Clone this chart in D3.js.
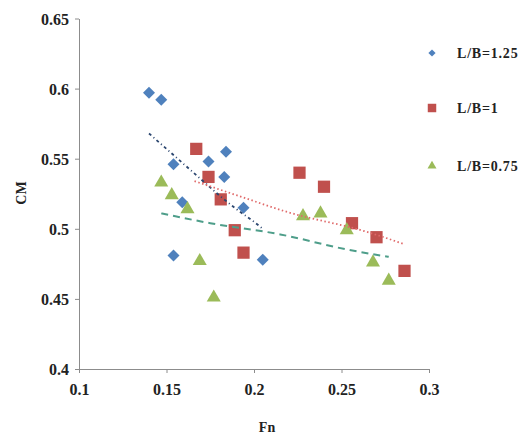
<!DOCTYPE html>
<html><head><meta charset="utf-8">
<script src="https://cdn.jsdelivr.net/npm/d3@7"></script>
<style>body{margin:0;background:#fff}svg{display:block}</style>
</head><body>
<script>
// ---- data ----
const seriesNames = ["L/B=1.25", "L/B=1", "L/B=0.75"];
const fnLB125 = [0.140, 0.147, 0.154, 0.174, 0.184, 0.183, 0.159, 0.194, 0.154, 0.205];
const cmLB125 = [0.597, 0.592, 0.546, 0.548, 0.555, 0.537, 0.519, 0.515, 0.481, 0.478];
const fnLB1 = [0.167, 0.174, 0.181, 0.189, 0.194, 0.226, 0.240, 0.256, 0.270, 0.286];
const cmLB1 = [0.557, 0.537, 0.521, 0.499, 0.483, 0.540, 0.530, 0.504, 0.494, 0.470];
const fnLB075 = [0.147, 0.153, 0.162, 0.169, 0.177, 0.228, 0.238, 0.253, 0.268, 0.277];
const cmLB075 = [0.533, 0.524, 0.514, 0.477, 0.451, 0.509, 0.511, 0.499, 0.476, 0.463];
// trendlines
const trendFn125 = [0.140, 0.150, 0.160, 0.170, 0.180, 0.190, 0.200, 0.205];
const trendCm125 = [0.568, 0.557, 0.546, 0.535, 0.524, 0.514, 0.505, 0.500];
const trendFn1 = [0.166, 0.190, 0.219, 0.264, 0.286];
const trendCm1 = [0.534, 0.524, 0.512, 0.498, 0.489];
const trendFn075 = [0.147, 0.175, 0.215, 0.254, 0.277];
const trendCm075 = [0.511, 0.504, 0.496, 0.485, 0.480];
const xTicks = [0.1, 0.15, 0.2, 0.25, 0.3];
const yTicks = [0.4, 0.45, 0.5, 0.55, 0.6, 0.65];

const W = 525, H = 435;
const svg = d3.select("body").append("svg").attr("width", W).attr("height", H);
const x = d3.scaleLinear().domain([0.1, 0.3]).range([79, 429]);
const y = d3.scaleLinear().domain([0.4, 0.65]).range([369, 18.5]);
const font = "'Liberation Serif','Times New Roman',serif";

const xAxis = svg.append("g").attr("transform", "translate(0,369)")
  .call(d3.axisBottom(x).tickValues(xTicks).tickSize(4).tickSizeOuter(0).tickFormat(d3.format("")));
const yAxis = svg.append("g").attr("transform", "translate(79,0)")
  .call(d3.axisLeft(y).tickValues(yTicks).tickSize(4).tickSizeOuter(0).tickFormat(d3.format("")));
[xAxis, yAxis].forEach(g => {
  g.selectAll("path,line").attr("stroke", "#8c8c8c");
  g.selectAll("text").attr("font-family", font).attr("font-size", 16).attr("font-weight", "bold").attr("fill", "#222");
});
xAxis.selectAll("text").attr("dy", "1.2em");
yAxis.selectAll("text").attr("x", -10).attr("dy", "0.35em");

svg.append("text").attr("x", 267).attr("y", 432).attr("text-anchor", "middle")
  .attr("font-family", font).attr("font-size", 14).attr("font-weight", "bold").attr("fill", "#222").text("Fn");
svg.append("text").attr("transform", "translate(26,193) rotate(-90)").attr("text-anchor", "middle")
  .attr("font-family", font).attr("font-size", 14).attr("font-weight", "bold").attr("fill", "#222").text("CM");

const line = d3.line().x(d => x(d[0])).y(d => y(d[1])).curve(d3.curveMonotoneX);
const trends = [
  {fn: trendFn125, cm: trendCm125, color: "#2c4770", dash: "3,3,1,3", w: 1.8},
  {fn: trendFn1, cm: trendCm1, color: "#e06a6a", dash: "1.5,2.5", w: 1.8},
  {fn: trendFn075, cm: trendCm075, color: "#4e9e8a", dash: "7,5", w: 2}
];

const series = [
  {fn: fnLB125, cm: cmLB125, color: "#4F81BD", sym: d3.symbolSquare, size: 72, rot: 45, leg: 26},
  {fn: fnLB1, cm: cmLB1, color: "#C0504D", sym: d3.symbolSquare, size: 150, rot: 0, leg: 72},
  {fn: fnLB075, cm: cmLB075, color: "#9BBB59", sym: d3.symbolTriangle, size: 85, rot: 0, leg: 35}
];
series.forEach(s => {
  svg.append("g").selectAll("path").data(s.fn.map((f, i) => [f, s.cm[i]])).join("path")
    .attr("transform", d => `translate(${x(d[0])},${y(d[1])}) rotate(${s.rot})`)
    .attr("d", d3.symbol().type(s.sym).size(s.size)())
    .attr("fill", s.color);
});
trends.forEach(t => {
  svg.append("path").datum(t.fn.map((f, i) => [f, t.cm[i]]))
    .attr("d", line).attr("fill", "none").attr("stroke", t.color)
    .attr("stroke-width", t.w).attr("stroke-dasharray", t.dash);
});

// legend
const legY = [53, 108, 166];
series.forEach((s, i) => {
  svg.append("path").attr("transform", `translate(432,${legY[i]}) rotate(${s.rot})`)
    .attr("d", d3.symbol().type(s.sym).size(s.leg)()).attr("fill", s.color);
  svg.append("text").attr("x", 457).attr("y", legY[i]).attr("dy", "0.35em")
    .attr("font-family", font).attr("font-size", 14).attr("font-weight", "bold")
    .attr("fill", "#222").attr("letter-spacing", 0.8).text(seriesNames[i]);
});
</script>
</body></html>
